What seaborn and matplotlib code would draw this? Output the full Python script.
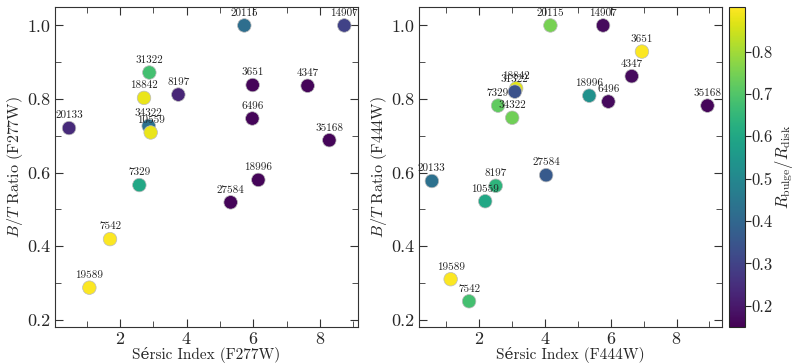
import numpy as np
import pandas as pd
import matplotlib
matplotlib.use("Agg")
import matplotlib.pyplot as plt
import seaborn as sns
from matplotlib.ticker import MultipleLocator, FormatStrFormatter

# ===================================
# Data
# ===================================

ids_f277 = ["20115", "14907", "31322", "3651", "4347", "18842", "8197", "20133",
            "34322", "10559", "6496", "35168", "18996", "7329", "27584", "7542", "19589"]
sersic_f277 = [5.73, 8.73, 2.88, 5.98, 7.63, 2.72, 3.75, 0.47,
               2.86, 2.92, 5.97, 8.28, 6.15, 2.58, 5.32, 1.70, 1.08]
bt_f277 = [1.0, 1.0, 0.872, 0.838, 0.836, 0.803, 0.812, 0.721,
           0.727, 0.709, 0.747, 0.688, 0.580, 0.566, 0.519, 0.419, 0.287]
ratio_f277 = [0.42, 0.30, 0.68, 0.16, 0.16, 0.88, 0.23, 0.24,
              0.43, 0.88, 0.16, 0.16, 0.16, 0.60, 0.16, 0.90, 0.90]

ids_f444 = ["20115", "14907", "3651", "4347", "18842", "31322", "18996", "6496",
            "7329", "34322", "35168", "20133", "27584", "8197", "10559", "19589", "7542"]
sersic_f444 = [4.17, 5.77, 6.95, 6.64, 3.13, 3.09, 5.35, 5.93,
               2.58, 3.01, 8.94, 0.57, 4.04, 2.51, 2.19, 1.14, 1.70]
bt_f444 = [1.0, 1.0, 0.929, 0.862, 0.829, 0.820, 0.809, 0.793,
           0.782, 0.749, 0.782, 0.577, 0.593, 0.564, 0.522, 0.310, 0.250]
ratio_f444 = [0.75, 0.17, 0.90, 0.17, 0.87, 0.34, 0.53, 0.17,
              0.72, 0.74, 0.16, 0.43, 0.36, 0.64, 0.60, 0.90, 0.68]

df277 = pd.DataFrame({"id": ids_f277, "n": sersic_f277, "bt": bt_f277, "r": ratio_f277})
df444 = pd.DataFrame({"id": ids_f444, "n": sersic_f444, "bt": bt_f444, "r": ratio_f444})

vmin, vmax = 0.15, 0.905

# ===================================
# Style
# ===================================

sns.set_style("ticks")
plt.rcParams["font.family"] = ["cmr10", "DejaVu Serif"]
plt.rcParams["mathtext.fontset"] = "cm"
plt.rcParams["axes.formatter.use_mathtext"] = True
plt.rcParams["axes.unicode_minus"] = False

fig = plt.figure(figsize=(7.93, 3.64), dpi=100)
ax1 = fig.add_axes([0.0694, 0.1016, 0.382, 0.879])
ax2 = fig.add_axes([0.528, 0.1016, 0.382, 0.879])
cax = fig.add_axes([0.919, 0.1016, 0.0202, 0.879])

panels = [
    (ax1, df277, "F277W", (0.05, 9.14)),
    (ax2, df444, "F444W", (0.17, 9.37)),
]

for ax, d, band, xlim in panels:
    sns.scatterplot(
        data=d, x="n", y="bt", hue="r",
        palette="viridis", hue_norm=(vmin, vmax),
        s=95, edgecolor="#bbbbbb", linewidth=0.5,
        legend=False, ax=ax, zorder=3
    )
    for _, row in d.iterrows():
        ax.annotate(
            row["id"], (row["n"], row["bt"]),
            xytext=(0, 5.5), textcoords="offset points",
            ha="center", va="bottom", fontsize=8, color="#222222"
        )
    ax.set_xlim(*xlim)
    ax.set_ylim(0.18, 1.05)
    ax.xaxis.set_major_locator(MultipleLocator(2))
    ax.xaxis.set_minor_locator(MultipleLocator(1))
    ax.yaxis.set_major_locator(MultipleLocator(0.2))
    ax.yaxis.set_minor_locator(MultipleLocator(0.1))
    ax.tick_params(which="both", direction="in", top=True, right=True,
                   labelsize=13, color="#333333", pad=3)
    ax.tick_params(which="major", length=6)
    ax.tick_params(which="minor", length=4)
    ax.yaxis.set_major_formatter(FormatStrFormatter("%.1f"))
    ax.set_xlabel(f"Sérsic Index ({band})", fontsize=11, labelpad=0)
    ax.set_ylabel(f"$B/T$ Ratio ({band})", fontsize=11.5, labelpad=2)
    for sp in ax.spines.values():
        sp.set_color("#333333")

# ===================================
# Colorbar
# ===================================

sm = plt.cm.ScalarMappable(cmap="viridis", norm=plt.Normalize(vmin, vmax))
cb = fig.colorbar(sm, cax=cax)
cb.set_ticks([0.2, 0.3, 0.4, 0.5, 0.6, 0.7, 0.8])
cb.ax.yaxis.set_major_formatter(FormatStrFormatter("%.1f"))
cb.ax.tick_params(labelsize=12, length=4, pad=1)
cb.set_label(r"$R_{\rm bulge}/R_{\rm disk}$", fontsize=12, labelpad=0)

fig.savefig("out.png", dpi=100)
